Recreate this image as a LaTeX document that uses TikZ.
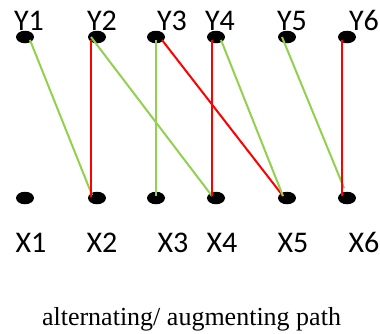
\documentclass[tikz,border=0pt]{standalone}
\usepackage{fontspec}
\usetikzlibrary{shapes.geometric}
\setmainfont{Carlito}
\newfontfamily\capfont{Liberation Serif}
\definecolor{matchgreen}{RGB}{146,208,80}
\definecolor{matchred}{RGB}{255,0,0}
\begin{document}
\begin{tikzpicture}[x=1pt,y=-1pt,
  vertex/.style={ellipse,fill=black,inner sep=0pt,minimum width=18pt,minimum height=12.5pt},
  vlabel/.style={anchor=base,inner sep=0pt,font=\fontsize{30}{30}\selectfont},
  matched/.style={draw=matchred,line width=2pt},
  free/.style={draw=matchgreen,line width=2pt}]
\useasboundingbox (0,0) rectangle (380,333);

% top row
\node[vertex] (y1) at (25,37) {};
\node[vertex] (y2) at (97,37) {};
\node[vertex] (y3) at (156,37) {};
\node[vertex] (y4) at (216,37) {};
\node[vertex] (y5) at (287,37) {};
\node[vertex] (y6) at (347,37) {};
% bottom row
\node[vertex] (x1) at (25,198) {};
\node[vertex] (x2) at (97,198) {};
\node[vertex] (x3) at (156,198) {};
\node[vertex] (x4) at (216,198) {};
\node[vertex] (x5) at (287,198) {};
\node[vertex] (x6) at (347,198) {};

% labels
\node[vlabel] (ly1) at (29,30) {Y1};
\node[vlabel] (ly2) at (102,30) {Y2};
\node[vlabel] (ly3) at (172,30) {Y3};
\node[vlabel] (ly4) at (220,30) {Y4};
\node[vlabel] (ly5) at (292,30) {Y5};
\node[vlabel] (ly6) at (364,30) {Y6};
\node[vlabel] (lx1) at (31,252) {X1};
\node[vlabel] (lx2) at (102,252) {X2};
\node[vlabel] (lx3) at (173,252) {X3};
\node[vlabel] (lx4) at (222,252) {X4};
\node[vlabel] (lx5) at (293,252) {X5};
\node[vlabel] (lx6) at (364,252) {X6};

% edges (shifts are in page coordinates: positive yshift is upward)
\draw[free] ([xshift=5,yshift=-3]y1.center) -- ([xshift=-5,yshift=3]x2.center);
\draw[matched] ([xshift=-6,yshift=-3]y2.center) -- ([xshift=-6,yshift=1]x2.center);
\draw[free] ([xshift=-6]y2.center) -- ([xshift=-4,yshift=2]x4.center);
\draw[free] ([yshift=-3]y3.center) -- ([yshift=2]x3.center);
\draw[matched] ([xshift=6,yshift=-3]y3.center) -- ([xshift=-4,yshift=2]x5.center);
\draw[matched] ([xshift=-4,yshift=-3]y4.center) -- ([xshift=-4,yshift=2]x4.center);
\draw[free] ([xshift=5,yshift=-3]y4.center) -- ([xshift=-4,yshift=2]x5.center);
\draw[free] ([xshift=-5]y5.center) -- ([xshift=-3,yshift=10]x6.center);
\draw[matched] ([xshift=-5,yshift=-3]y6.center) -- ([xshift=-5,yshift=2]x6.center);

% caption
\node[anchor=base,inner sep=0pt,font=\capfont\fontsize{26}{26}\selectfont] (cap) at (191.5,325) {alternating/ augmenting path};
\end{tikzpicture}
\end{document}
